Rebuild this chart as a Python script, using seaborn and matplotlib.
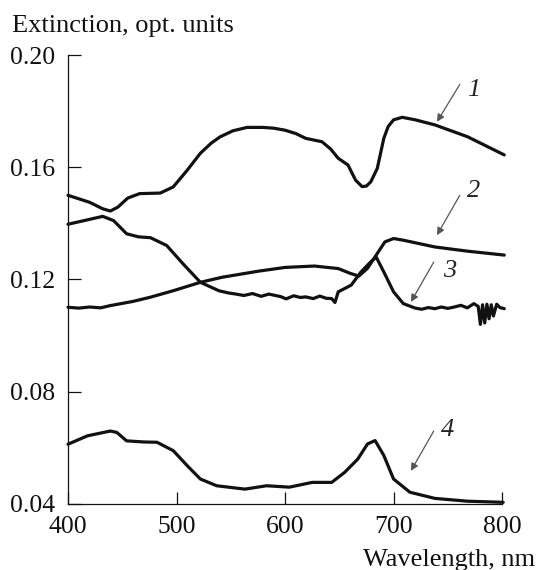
import matplotlib

matplotlib.use("Agg")

import matplotlib.pyplot as plt
import seaborn as sns

# curve 1
wl1 = [400, 420, 432, 439, 446, 455, 466, 485, 497, 510, 522, 532, 540, 552, 565,
       580, 590, 600, 610, 619, 634, 642, 649, 658, 665, 671, 675, 679, 685, 691,
       695, 700, 708, 720, 738, 768, 802]
ext1 = [0.1500, 0.1475, 0.1452, 0.1444, 0.1458, 0.1490, 0.1506, 0.1508, 0.1530,
        0.1590, 0.1650, 0.1686, 0.1708, 0.1730, 0.1742, 0.1742, 0.1739, 0.1732,
        0.1720, 0.1703, 0.1691, 0.1665, 0.1632, 0.1608, 0.1554, 0.1531, 0.1533,
        0.1548, 0.1596, 0.1703, 0.1745, 0.1769, 0.1778, 0.1769, 0.1751, 0.1709,
        0.1644]

# curve 2
wl2 = [400, 410, 420, 430, 439, 460, 476, 497, 522, 542, 576, 600, 627, 649, 660,
       668, 676, 684, 692, 700, 709, 738, 768, 802]
ext2 = [0.1101, 0.1098, 0.1102, 0.1099, 0.1107, 0.1122, 0.1137, 0.1160, 0.1190,
        0.1208, 0.1230, 0.1243, 0.1248, 0.1239, 0.1222, 0.1212, 0.1240, 0.1287,
        0.1334, 0.1346, 0.1340, 0.1316, 0.1301, 0.1287]

# curve 3 (noisy)
wl3 = [400, 415, 432, 442, 454, 465, 476, 491, 506, 522, 539, 548, 555, 562, 570,
       578, 585, 590, 596, 601, 608, 614, 619, 626, 632, 638, 643, 646, 649, 661,
       670, 679, 684, 691, 700, 709, 720, 726, 732, 738, 744, 750, 756, 762, 768,
       774, 778, 780, 782, 784, 786, 788, 790, 792, 795, 798, 802]
ext3 = [0.1397, 0.1410, 0.1425, 0.1410, 0.1363, 0.1352, 0.1349, 0.1321, 0.1256,
        0.1190, 0.1160, 0.1152, 0.1148, 0.1143, 0.1150, 0.1140, 0.1148, 0.1144,
        0.1139, 0.1131, 0.1142, 0.1136, 0.1138, 0.1132, 0.1141, 0.1133, 0.1132,
        0.1118, 0.1156, 0.1180, 0.1227, 0.1263, 0.1280, 0.1227, 0.1156, 0.1114,
        0.1098, 0.1094, 0.1100, 0.1096, 0.1102, 0.1097, 0.1102, 0.1108, 0.1099,
        0.1114, 0.1104, 0.1040, 0.1110, 0.1045, 0.1112, 0.1060, 0.1110, 0.1070,
        0.1112, 0.1100, 0.1096]

# curve 4
wl4 = [400, 418, 439, 445, 454, 470, 482, 497, 510, 522, 537, 563, 583, 604, 625,
       643, 655, 667, 676, 683, 691, 700, 715, 738, 768, 801]
ext4 = [0.0613, 0.0643, 0.0660, 0.0655, 0.0625, 0.0621, 0.0620, 0.0590, 0.0536,
        0.0489, 0.0465, 0.0453, 0.0465, 0.0460, 0.0477, 0.0477, 0.0513, 0.0560,
        0.0614, 0.0626, 0.0573, 0.0489, 0.0442, 0.0420, 0.0410, 0.0406]

curves = [(wl1, ext1), (wl2, ext2), (wl3, ext3), (wl4, ext4)]
curve_labels = ["1", "2", "3", "4"]
# label position, arrow start, arrow tip (data coords)
label_pos = [(774, 0.1875), (774, 0.1515), (752, 0.1230), (750, 0.0665)]
arrow_from = [(761, 0.1895), (761, 0.1500), (737, 0.1262), (737, 0.0660)]
arrow_to = [(740, 0.1762), (740, 0.1358), (716, 0.1120), (716, 0.0518)]

x_ticks = [400, 500, 600, 700, 800]
y_ticks = [0.04, 0.08, 0.12, 0.16, 0.20]

sns.set_style("ticks")
plt.rcParams["font.family"] = ["Liberation Serif", "DejaVu Serif"]

fig = plt.figure(figsize=(5.37, 5.70), dpi=100)
ax = fig.add_axes([0.1266, 0.1158, 0.935 - 0.1266, 0.9035 - 0.1158])

for wl, ext in curves:
    sns.lineplot(x=wl, y=ext, ax=ax, color="#111111", lw=2.3, sort=False,
                 estimator=None, clip_on=False)

for lab, pos, a0, a1 in zip(curve_labels, label_pos, arrow_from, arrow_to):
    ax.text(pos[0], pos[1], lab, fontsize=19, style="italic", ha="center",
            va="center", color="#222222")
    ax.annotate("", xy=a1, xytext=a0,
                arrowprops=dict(arrowstyle="-|>", color="#555555", lw=0.9,
                                mutation_scale=11, shrinkA=0, shrinkB=0))

ax.set_xlim(400, 800)
ax.set_ylim(0.04, 0.20)
ax.set_xticks(x_ticks)
ax.set_yticks(y_ticks)
ax.set_xticklabels([str(t) for t in x_ticks])
ax.set_yticklabels([f"{t:.2f}" for t in y_ticks])
ax.tick_params(direction="in", length=9, width=0.9, labelsize=18.5, pad=9,
               colors="#111111")
for side in ["top", "right"]:
    ax.spines[side].set_visible(False)
for side in ["left", "bottom"]:
    ax.spines[side].set_linewidth(0.9)
    ax.spines[side].set_color("#111111")
ax.set_xlabel("")
ax.set_ylabel("")

fig.text(12 / 537, 1 - 32 / 570, "Extinction, opt. units", fontsize=19,
         va="baseline", ha="left", color="#111111")
fig.text(535 / 537, 1 - 566 / 570, "Wavelength, nm", fontsize=19,
         va="baseline", ha="right", color="#111111")

fig.savefig("out.png", dpi=100)
